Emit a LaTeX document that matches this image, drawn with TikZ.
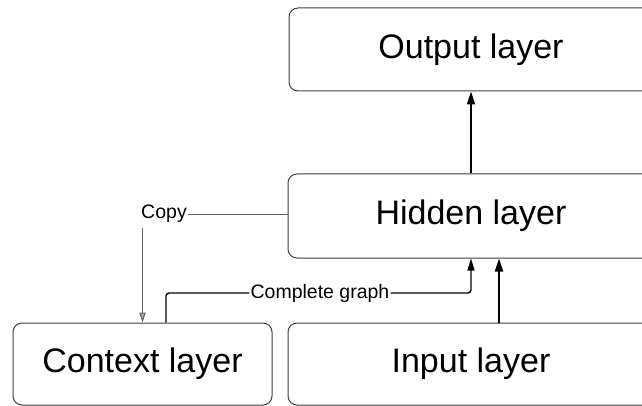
\documentclass[tikz,border=0pt]{standalone}
\usepackage{fontspec}
\setmainfont{Liberation Sans}
\usetikzlibrary{arrows.meta}
\tikzset{
  layer/.style={draw=black!75, line width=1pt, rounded corners=9pt, fill=white,
    font=\fontsize{34}{40}\selectfont, inner sep=0pt},
  lbl/.style={font=\fontsize{19.5}{23}\selectfont, inner sep=1pt},
  feed/.style={line width=2pt, -{Triangle[length=13pt,width=8pt]}},
  wire/.style={line width=1.4pt, rounded corners=3pt, -{Triangle[length=12pt,width=7pt]}},
  copyline/.style={line width=1pt, draw=black!60},
  copyarrow/.style={line width=1pt, draw=black!60, -{Triangle[length=10pt,width=6.5pt,fill=black!35]}}
}
\begin{document}
\begin{tikzpicture}[x=1pt,y=-1pt]
  \useasboundingbox (0,0) rectangle (642,406);
  \clip (0,0) rectangle (642,406);
  % layers
  \node[layer, minimum width=364pt, minimum height=83pt] (output) at (471,49.5) {Output layer};
  \node[layer, minimum width=366pt, minimum height=84pt] (hidden) at (471,216) {Hidden layer};
  \node[layer, minimum width=366pt, minimum height=82pt] (input) at (471,364) {Input layer};
  \node[layer, minimum width=259pt, minimum height=82pt] (context) at (142.5,364) {Context layer};
  % labels on the recurrent connections
  \node[lbl] (copy) at (164,214) {Copy};
  \node[lbl] (complete) at (320,293) {Complete graph};
  % forward connections
  \draw[feed] (hidden.north) -- (output.south);
  \draw[feed] ([xshift=28pt]input.north) -- ([xshift=28pt]hidden.south);
  % context to hidden
  \draw[line width=1.4pt, rounded corners=3pt] ([xshift=23.5pt]context.north) |- (complete.west);
  \draw[wire] (complete.east) -| (hidden.south);
  % hidden to context
  \draw[copyline] (hidden.west |- copy.east) -- (copy.east);
  \draw[copyarrow] ([yshift=-4pt]copy.south -| context.north) -- (context.north);
\end{tikzpicture}
\end{document}
